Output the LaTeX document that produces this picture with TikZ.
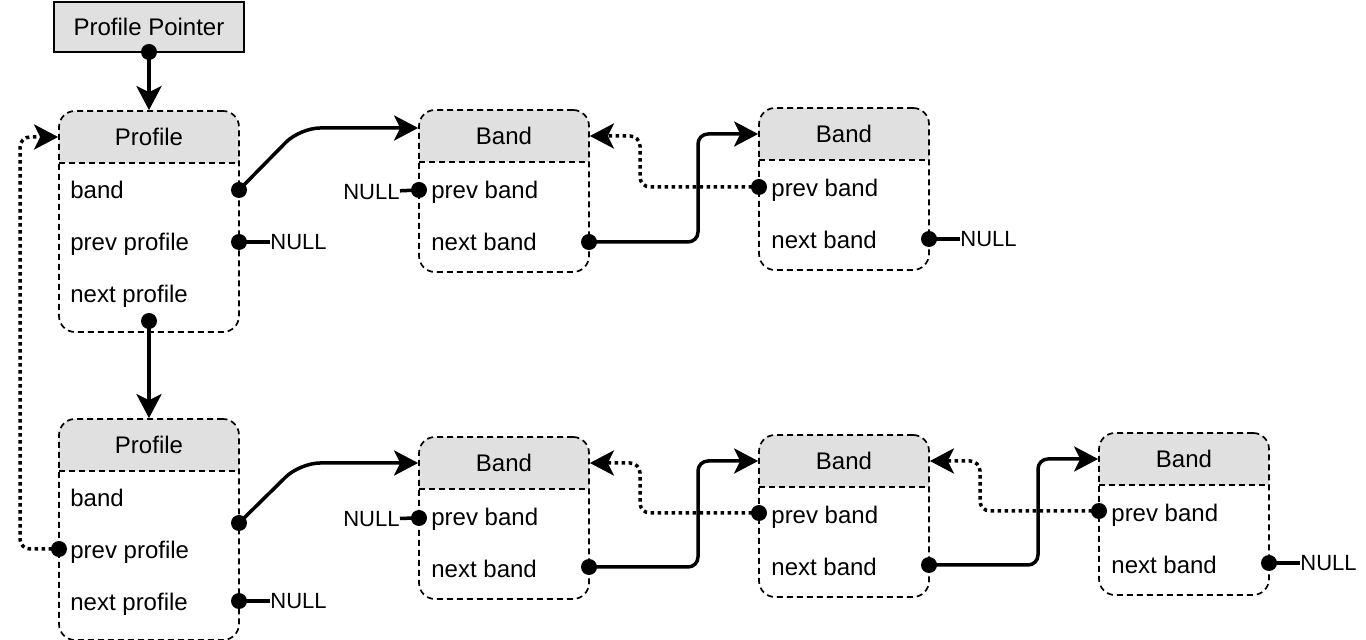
\documentclass[tikz,border=0pt]{standalone}
\usepackage{fontspec}
\setmainfont{Liberation Sans}
\usepackage{tikz}
\usetikzlibrary{arrows.meta,calc}
\definecolor{hdrfill}{gray}{0.878}
\definecolor{edge}{gray}{0}

\tikzset{
  recbox/.style={draw=edge,dash pattern=on 3pt off 2pt,line width=0.85pt,
    rounded corners=8pt,inner sep=0pt,
    path picture={
      \fill[hdrfill,sharp corners] (path picture bounding box.north west)
        rectangle ([yshift=-26pt]path picture bounding box.north east);
      \draw[edge,sharp corners,dash pattern=on 3pt off 2pt,line width=0.85pt]
        ([yshift=-26pt]path picture bounding box.north west) --
        ([yshift=-26pt]path picture bounding box.north east);}},
  ptrbox/.style={draw=edge,fill=hdrfill,line width=1.1pt,inner sep=0pt,
    minimum width=95pt,minimum height=25pt,font=\fontsize{12}{14}\selectfont},
  headtxt/.style={inner sep=0pt,font=\fontsize{12}{14}\selectfont},
  fieldtxt/.style={anchor=west,inner sep=0pt,text height=8.6pt,text depth=0.4pt,
    font=\fontsize{12}{14}\selectfont},
  nulltxt/.style={inner sep=0pt,text height=8pt,text depth=0pt,
    font=\fontsize{11}{13}\selectfont},
  dotnode/.style={circle,fill=edge,inner sep=0pt,minimum size=8pt},
  stub/.style={draw=edge,line width=1.75pt},
  link/.style={draw=edge,line width=1.75pt,
    -{Stealth[length=12pt,width=12.5pt,inset=3pt]}},
  backlink/.style={link,dash pattern=on 1.75pt off 1.75pt}
}

\begin{document}
\begin{tikzpicture}[x=0.5pt,y=-0.5pt]
  \useasboundingbox (0,0) rectangle (1366,640);
  \fill[white] (0,0) rectangle (1366,640);

  \node[ptrbox] (ptr) at (149,27) {Profile Pointer};

  \foreach \n/\t in {profA/111,profB/419} {
    \node[recbox,minimum width=90pt,minimum height=110.5pt] (\n)
      at (149,\t+110.5) {};
    \node[headtxt] (\n-title) at (149,\t+26) {Profile};
    \node[fieldtxt] (\n-band) at (70,\t+79) {band};
    \node[fieldtxt] (\n-prev) at (70,\t+131) {prev profile};
    \node[fieldtxt] (\n-next) at (70,\t+183) {next profile};
  }

  \foreach \n/\x/\t in {bandA/504/110,bandB/844/108,bandC/504/437,
    bandD/844/435,bandE/1184/433} {
    \node[recbox,minimum width=85pt,minimum height=81pt] (\n)
      at (\x,\t+81) {};
    \node[headtxt] (\n-title) at (\x,\t+26) {Band};
    \node[fieldtxt] (\n-prev) at (\x-73,\t+80) {prev band};
    \node[fieldtxt] (\n-next) at (\x-73,\t+132) {next band};
  }

  \node[nulltxt,anchor=west] (nullA) at (270,242) {NULL};
  \node[nulltxt,anchor=west] (nullB) at (270,601) {NULL};
  \node[nulltxt,anchor=west] (nullC) at (960,239) {NULL};
  \node[nulltxt,anchor=west] (nullD) at (1300,563) {NULL};
  \node[nulltxt,anchor=east] (nullE) at (400,192) {NULL};
  \node[nulltxt,anchor=east] (nullF) at (400,519) {NULL};

  \foreach \d/\x/\y in {ptr-p/149/52,profA-band-p/239/190,
    profA-prev-p/239/242,profA-next-p/149/321,profB-band-p/239/523,
    profB-prev-p/59/549,profB-next-p/239/601,
    bandA-prev-p/419/190,bandA-next-p/589/242,
    bandB-prev-p/759/187,bandB-next-p/929/239,
    bandC-prev-p/419/518,bandC-next-p/589/567,
    bandD-prev-p/759/513,bandD-next-p/929/565,
    bandE-prev-p/1099/511,bandE-next-p/1269/563} {
    \coordinate (\d) at (\x,\y);
  }

  \foreach \d/\m in {profA-prev-p/nullA,profB-next-p/nullB,
    bandB-next-p/nullC,bandE-next-p/nullD,bandA-prev-p/nullE,
    bandC-prev-p/nullF} {
    \draw[stub] (\d) -- (\m);
  }

  \draw[link] (ptr-p) -- (profA.north);
  \draw[link] (profA-next-p) -- (profB.north);
  \draw[link,rounded corners=10pt] (profA-band-p) -- ++(61,-62)
    -- ($(bandA.west |- bandA-title)+(0,-8)$);
  \draw[link,rounded corners=10pt] (profB-band-p) -- ++(61,-60)
    -- (bandC.west |- bandC-title);
  \draw[backlink,rounded corners=5pt] (profB-prev-p) -- ++(-39,0)
    |- (profA.west |- profA-title);

  \foreach \a/\b in {bandA/bandB,bandC/bandD,bandD/bandE} {
    \draw[link,rounded corners=5pt] (\a-next-p) -- ++(109,0)
      |- (\b.west |- \b-title);
    \draw[backlink,rounded corners=5pt] (\b-prev-p) -- ++(-119,0)
      |- (\a.east |- \a-title);
  }

  \foreach \d in {ptr-p,profA-band-p,profA-prev-p,profA-next-p,
    profB-band-p,profB-prev-p,profB-next-p,bandA-prev-p,bandA-next-p,
    bandB-prev-p,bandB-next-p,bandC-prev-p,bandC-next-p,bandD-prev-p,
    bandD-next-p,bandE-prev-p,bandE-next-p} {
    \node[dotnode] (\d-dot) at (\d) {};
  }
\end{tikzpicture}
\end{document}
